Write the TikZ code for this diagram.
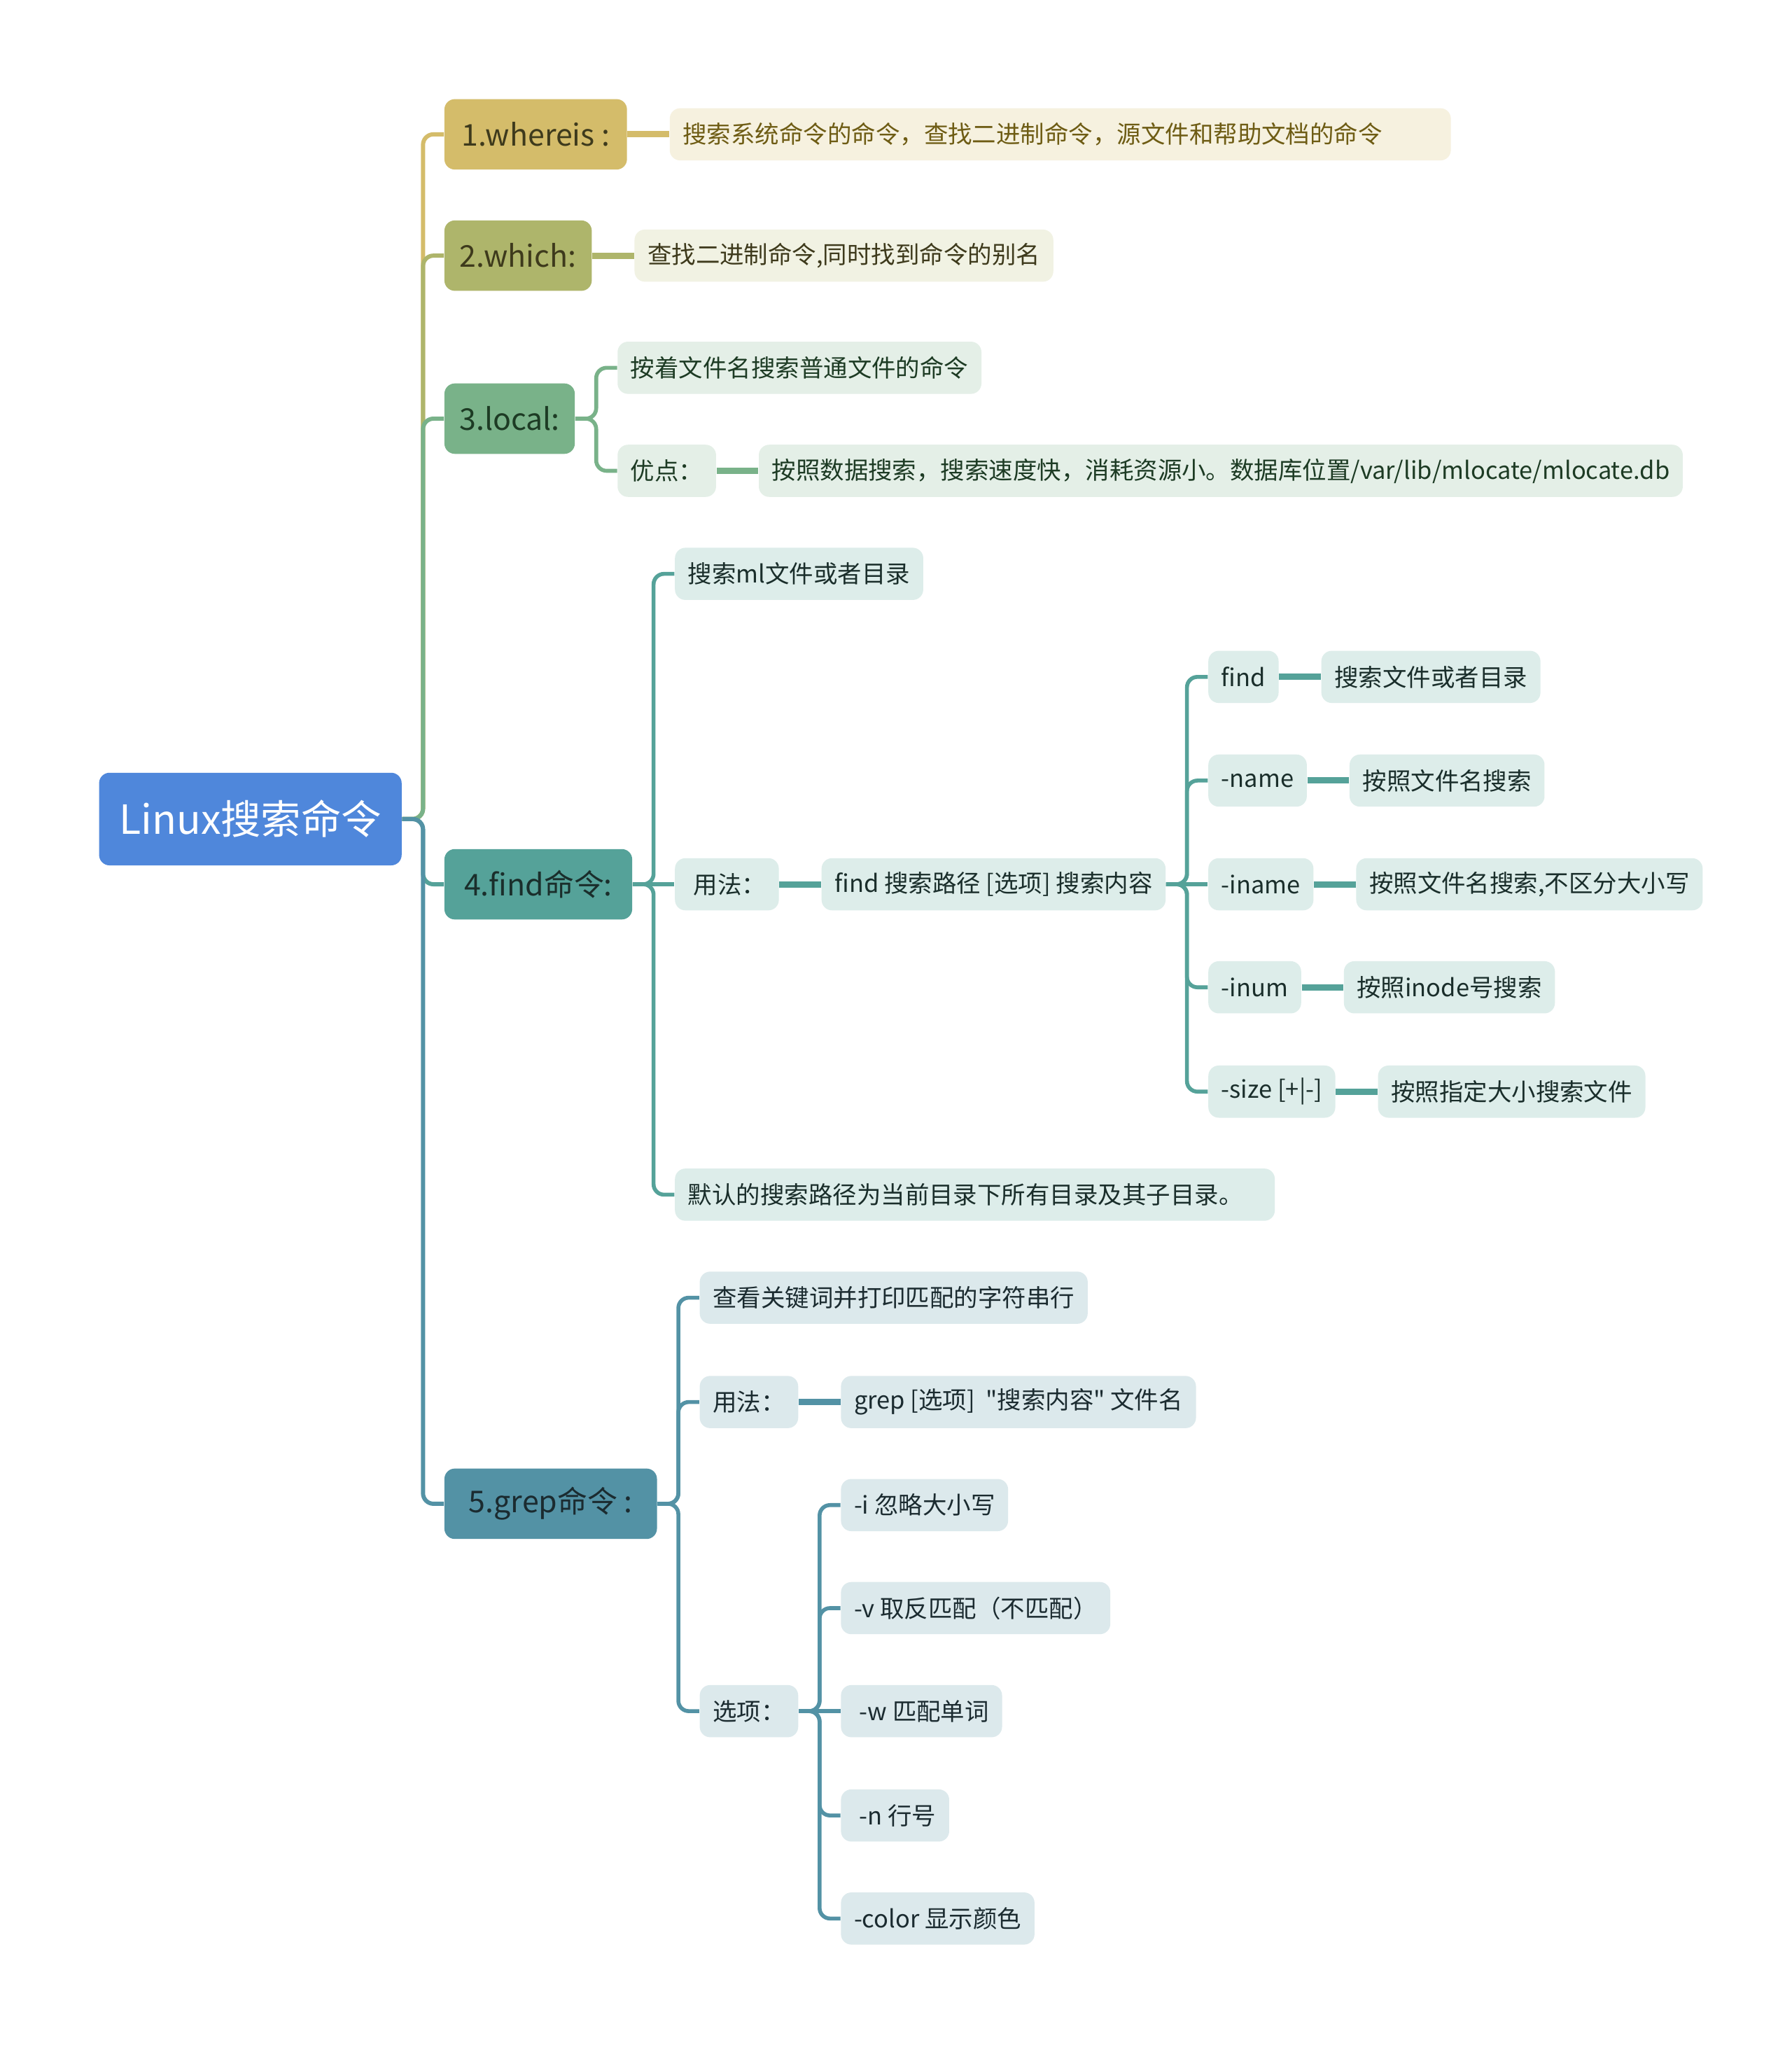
\documentclass[tikz,border=0pt]{standalone}
\usepackage{fontspec}
\setmainfont{Noto Sans CJK SC}[Ligatures=TeXOff]
\usetikzlibrary{positioning}

\definecolor{rootblue}{HTML}{4F87DB}
\definecolor{gold}{HTML}{D4BC6A}
\definecolor{olive}{HTML}{AEB56B}
\definecolor{sage}{HTML}{79B289}
\definecolor{teal}{HTML}{55A299}
\definecolor{steel}{HTML}{5392A5}
\definecolor{goldleaf}{HTML}{F6F1DF}
\definecolor{oliveleaf}{HTML}{F1F2E3}
\definecolor{sageleaf}{HTML}{E4EFE7}
\definecolor{tealleaf}{HTML}{DDEDEA}
\definecolor{steelleaf}{HTML}{DCE9EC}
\definecolor{goldtext}{HTML}{6E5C14}
\definecolor{olivetext}{HTML}{3E3A1C}
\definecolor{sagetext}{HTML}{1D3B24}
\definecolor{tealtext}{HTML}{1A2E2B}
\definecolor{steeltext}{HTML}{1B2B30}

\begin{document}
\begin{tikzpicture}[
    x=0.5pt, y=-0.5pt,
    node distance=16pt,
    rootbox/.style={
        rectangle,
        rounded corners=4pt,
        minimum width=116pt,
        minimum height=35.5pt,
        fill=rootblue,
        text=white,
        font=\fontsize{15.4}{18}\selectfont
    },
    topic/.style={
        rectangle,
        rounded corners=4pt,
        minimum height=27pt,
        inner xsep=0pt,
        font=\fontsize{11.5}{14}\selectfont
    },
    leaf/.style={
        rectangle,
        rounded corners=4pt,
        minimum height=20pt,
        inner xsep=5pt,
        font=\fontsize{9.25}{11}\selectfont
    },
    trunk/.style={line width=1.6pt, rounded corners=4pt},
    fork/.style={line width=1.5pt, rounded corners=4pt},
    chain/.style={line width=2.4pt}
]

\path [fill=white] (0,0) rectangle (1374,1568);

\node (root) [rootbox] at (192,628) {Linux搜索命令};

% first level
\node (b1) [topic, fill=gold, text=olivetext, minimum width=70pt, right=of root, yshift=262.5pt] {1.whereis :};
\node (b2) [topic, fill=olive, text=olivetext, minimum width=56.5pt, right=of root, yshift=216pt] {2.which:};
\node (b3) [topic, fill=sage, text=sagetext, minimum width=50pt, right=of root, yshift=153.5pt] {3.local:};
\node (b4) [topic, fill=teal, text=tealtext, minimum width=72pt, right=of root, yshift=-25pt] {4.find命令:};
\node (b5) [topic, fill=steel, text=steeltext, minimum width=81.5pt, right=of root, yshift=-262.5pt] {5.grep命令 :};

% whereis, which, local
\node (w1) [leaf, fill=goldleaf, text=goldtext, text width=289.5pt, align=left, right=of b1] {搜索系统命令的命令，查找二进制命令，源文件和帮助文档的命令};
\node (h1) [leaf, fill=oliveleaf, text=olivetext, right=of b2] {查找二进制命令,同时找到命令的别名};
\node (l1) [leaf, fill=sageleaf, text=sagetext, right=of b3, yshift=19.5pt] {按着文件名搜索普通文件的命令};
\node (l2) [leaf, fill=sageleaf, text=sagetext, right=of b3, yshift=-20pt] {优点：};
\node (l3) [leaf, fill=sageleaf, text=sagetext, right=of l2] {按照数据搜索，搜索速度快，消耗资源小。数据库位置/var/lib/mlocate/mlocate.db};

% find
\node (f1) [leaf, fill=tealleaf, text=tealtext, right=of b4, yshift=119pt] {搜索ml文件或者目录};
\node (f2) [leaf, fill=tealleaf, text=tealtext, right=of b4] {\ 用法：};
\node (f3) [leaf, fill=tealleaf, text=tealtext, text width=220pt, align=left, right=of b4, yshift=-119pt] {默认的搜索路径为当前目录下所有目录及其子目录。};
\node (f4) [leaf, fill=tealleaf, text=tealtext, right=of f2] {find 搜索路径 [选项] 搜索内容};

\node (o1) [leaf, fill=tealleaf, text=tealtext, right=of f4, yshift=79.5pt] {find};
\node (o2) [leaf, fill=tealleaf, text=tealtext, right=of f4, yshift=39.75pt] {-name};
\node (o3) [leaf, fill=tealleaf, text=tealtext, right=of f4] {-iname};
\node (o4) [leaf, fill=tealleaf, text=tealtext, right=of f4, yshift=-39.5pt] {-inum};
\node (o5) [leaf, fill=tealleaf, text=tealtext, right=of f4, yshift=-79.5pt] {-size [+|-]};

\node (d1) [leaf, fill=tealleaf, text=tealtext, right=of o1] {搜索文件或者目录};
\node (d2) [leaf, fill=tealleaf, text=tealtext, right=of o2] {按照文件名搜索};
\node (d3) [leaf, fill=tealleaf, text=tealtext, right=of o3] {按照文件名搜索,不区分大小写};
\node (d4) [leaf, fill=tealleaf, text=tealtext, right=of o4] {按照inode号搜索};
\node (d5) [leaf, fill=tealleaf, text=tealtext, right=of o5] {按照指定大小搜索文件};

% grep
\node (g1) [leaf, fill=steelleaf, text=steeltext, right=of b5, yshift=79pt] {查看关键词并打印匹配的字符串行};
\node (g2) [leaf, fill=steelleaf, text=steeltext, right=of b5, yshift=39pt] {用法：};
\node (g3) [leaf, fill=steelleaf, text=steeltext, right=of b5, yshift=-79.5pt] {选项：};
\node (g4) [leaf, fill=steelleaf, text=steeltext, right=of g2] {grep [选项]\ \ "搜索内容" 文件名};

\node (p1) [leaf, fill=steelleaf, text=steeltext, right=of g3, yshift=79pt] {-i 忽略大小写};
\node (p2) [leaf, fill=steelleaf, text=steeltext, right=of g3, yshift=39.5pt] {-v 取反匹配（不匹配）};
\node (p3) [leaf, fill=steelleaf, text=steeltext, right=of g3] {\ -w 匹配单词};
\node (p4) [leaf, fill=steelleaf, text=steeltext, right=of g3, yshift=-40pt] {\ -n 行号};
\node (p5) [leaf, fill=steelleaf, text=steeltext, right=of g3, yshift=-79.5pt] {-color 显示颜色};

% connectors
\draw [trunk, gold] (root.east) -- ++(16,0) |- (b1.west);
\draw [trunk, olive] (root.east) -- ++(16,0) |- (b2.west);
\draw [trunk, sage] (root.east) -- ++(16,0) |- (b3.west);
\draw [trunk, teal] (root.east) -- ++(16,0) |- (b4.west);
\draw [trunk, steel] (root.east) -- ++(16,0) |- (b5.west);

\draw [chain, gold] (b1) -- (w1);
\draw [chain, olive] (b2) -- (h1);
\draw [fork, sage] (b3.east) -- ++(16,0) |- (l1.west);
\draw [fork, sage] (b3.east) -- ++(16,0) |- (l2.west);
\draw [chain, sage] (l2) -- (l3);

\draw [fork, teal] (b4.east) -- ++(16,0) |- (f1.west);
\draw [fork, teal] (b4) -- (f2);
\draw [fork, teal] (b4.east) -- ++(16,0) |- (f3.west);
\draw [chain, teal] (f2) -- (f4);
\draw [fork, teal] (f4.east) -- ++(16,0) |- (o1.west);
\draw [fork, teal] (f4.east) -- ++(16,0) |- (o2.west);
\draw [fork, teal] (f4) -- (o3);
\draw [fork, teal] (f4.east) -- ++(16,0) |- (o4.west);
\draw [fork, teal] (f4.east) -- ++(16,0) |- (o5.west);
\draw [chain, teal] (o1) -- (d1);
\draw [chain, teal] (o2) -- (d2);
\draw [chain, teal] (o3) -- (d3);
\draw [chain, teal] (o4) -- (d4);
\draw [chain, teal] (o5) -- (d5);

\draw [fork, steel] (b5.east) -- ++(16,0) |- (g1.west);
\draw [fork, steel] (b5.east) -- ++(16,0) |- (g2.west);
\draw [fork, steel] (b5.east) -- ++(16,0) |- (g3.west);
\draw [chain, steel] (g2) -- (g4);
\draw [fork, steel] (g3.east) -- ++(16,0) |- (p1.west);
\draw [fork, steel] (g3.east) -- ++(16,0) |- (p2.west);
\draw [fork, steel] (g3) -- (p3);
\draw [fork, steel] (g3.east) -- ++(16,0) |- (p4.west);
\draw [fork, steel] (g3.east) -- ++(16,0) |- (p5.west);

\end{tikzpicture}
\end{document}
